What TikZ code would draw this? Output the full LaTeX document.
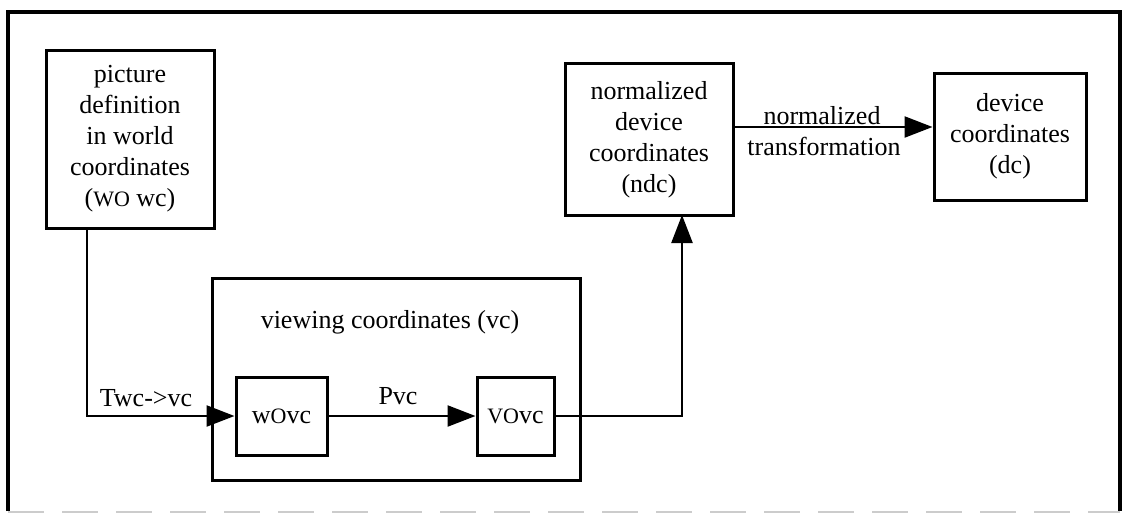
\documentclass[tikz,border=0pt]{standalone}
\usepackage{fontspec}
\setmainfont{Liberation Serif}
\usetikzlibrary{arrows.meta}

% petites capitales faites a la main (la police n'en a pas)
\newcommand{\petitcap}[1]{{\fontsize{11}{12}\selectfont #1}}

\begin{document}
\begin{tikzpicture}[x=0.5pt,y=-0.5pt,
    boite/.style={draw,line width=1.5pt,align=center,inner sep=0pt,
        font=\fontsize{13}{15.5}\selectfont},
    etiquette/.style={font=\fontsize{13}{15.5}\selectfont,inner sep=0pt},
    fleche/.style={line width=1.2pt,-{Triangle[length=14pt,width=10.5pt]}}]

    \useasboundingbox (0,0) rectangle (1125,514);

    % Le cadre autour de la figure
    \draw[line width=2.2pt] (8,511) -- (8,12) -- (1120,12) -- (1120,511);
    \draw[gray!40,line width=1.3pt,dash pattern=on 18pt off 9pt] (8,512) -- (1120,512);

    % Les boites du haut
    \node[boite,minimum width=84pt,minimum height=89pt] (monde) at (130,139)
        {picture\\definition\\in world\\coordinates\\(\petitcap{WO} wc)};
    \node[boite,minimum width=84pt,minimum height=76pt] (ndc) at (649,139.5)
        {normalized\\device\\coordinates\\(ndc)};
    \node[boite,minimum width=76pt,minimum height=63.5pt] (dc) at (1010,136.5)
        {device\\coordinates\\(dc)};

    % La boite des coordonnees de visualisation et ses deux sous-boites
    \node[boite,minimum width=184pt,minimum height=101pt] (vc) at (396.5,379) {};
    \node[etiquette] (titrevc) at (390,322) {viewing coordinates (vc)};
    \node[boite,minimum width=45.5pt,minimum height=39pt] (wovc) at (281.5,416) {w\petitcap{O}vc};
    \node[boite,minimum width=38.5pt,minimum height=39pt] (vovc) at (515.5,416) {\petitcap{VO}vc};

    % Points de passage des fleches
    \coordinate (depart) at (87,228);
    \coordinate (arrivee) at (682,215);

    % Les fleches
    \draw[fleche] (depart) |- (wovc.west);
    \draw[fleche] (wovc.east) -- (vovc.west);
    \draw[fleche] (vovc.east) -| (arrivee);
    \draw[fleche] (ndc.east |- 0,127) -- (dc.west |- 0,127);

    % Les textes sur les fleches
    \node[etiquette] (twc) at (146,398) {Twc->vc};
    \node[etiquette] (pvc) at (398,396) {Pvc};
    \node[etiquette,anchor=base] (norm) at (822,124) {normalized};
    \node[etiquette,anchor=base] (transf) at (824,155) {transformation};

\end{tikzpicture}
\end{document}
